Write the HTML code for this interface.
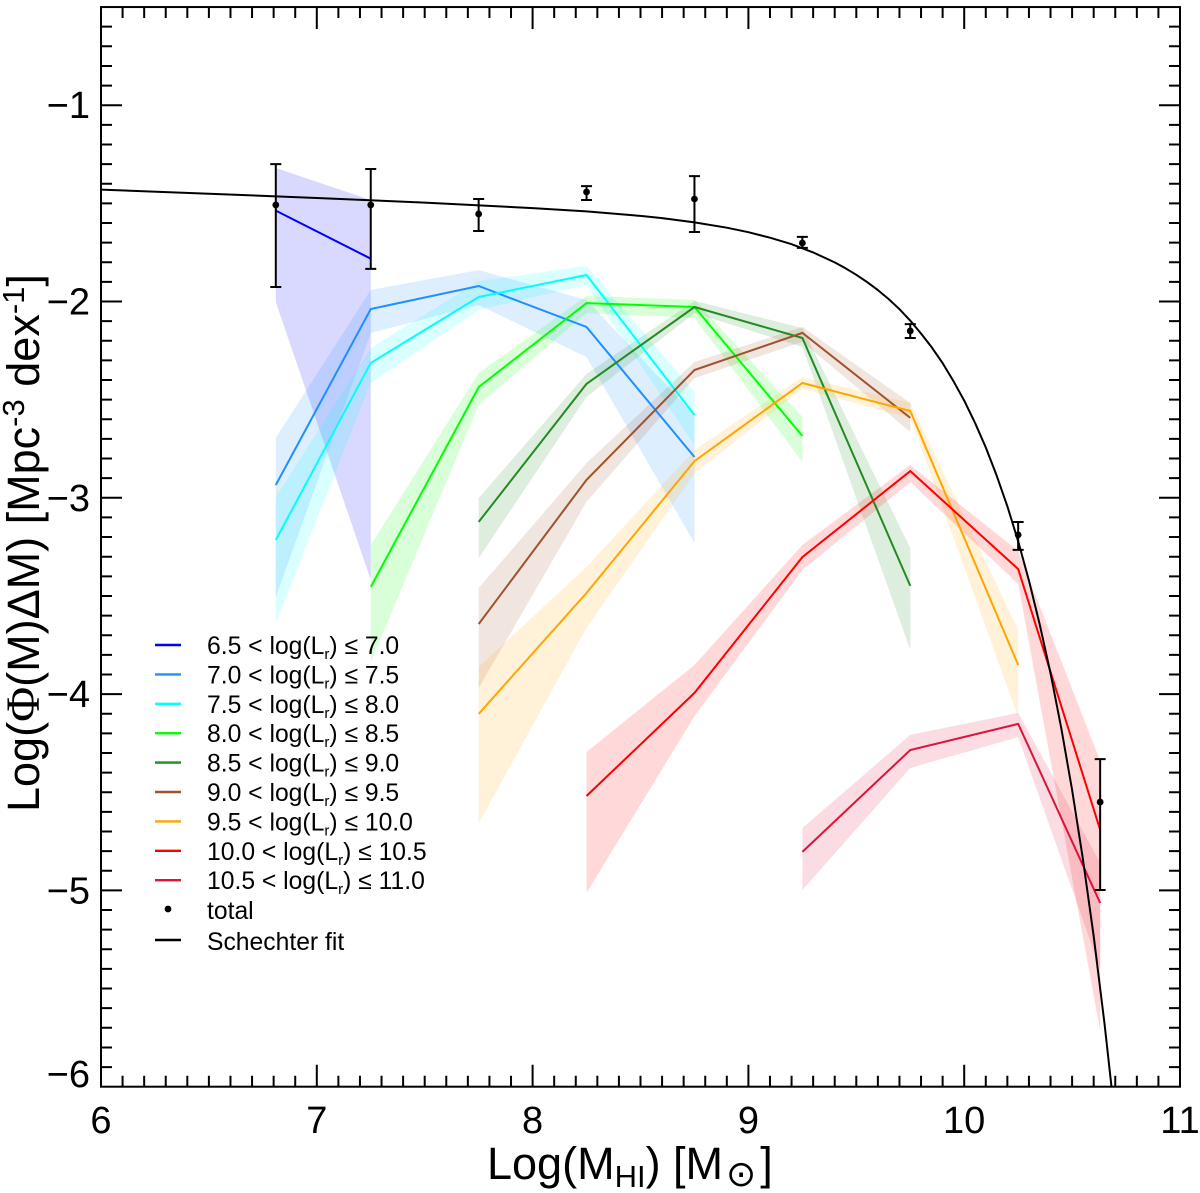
<!DOCTYPE html>
<html lang="en">
<head>
<meta charset="utf-8">
<title>HI mass function by luminosity bin</title>
<style>
html,body{margin:0;padding:0;background:#fff;}
svg{display:block;font-family:"Liberation Sans",sans-serif;}
</style>
</head>
<body>
<svg id="chart" xmlns="http://www.w3.org/2000/svg" width="1200" height="1193" viewBox="0 0 1200 1193">
  <defs><clipPath id="plot-clip"><rect x="101" y="7" width="1079" height="1079.7"/></clipPath></defs>
  <g id="bands-lines" clip-path="url(#plot-clip)"></g>
  <g id="fit" clip-path="url(#plot-clip)"></g>
  <g id="totals"></g>
  <g id="axes"></g>
  <g id="legend"></g>
  <text x="487" y="1179" font-size="45" fill="#000">Log(M<tspan font-size="31" dy="8">HI</tspan><tspan dy="-8">) [M</tspan><tspan font-size="36" dy="7" dx="3" font-family="'DejaVu Sans',sans-serif">⊙</tspan><tspan dy="-7" dx="4">]</tspan></text>
  <text transform="translate(39,812) rotate(-90)" font-size="45" fill="#000">Log(<tspan font-family="'Liberation Serif',serif" font-size="48">Φ</tspan>(M)ΔM) [Mpc<tspan font-size="31" dy="-15">-3</tspan><tspan dy="15"> dex</tspan><tspan font-size="31" dy="-15">-1</tspan><tspan dy="15">]</tspan></text>
</svg>
<script>
const NS = 'http://www.w3.org/2000/svg';

// ---- data ----
const xTickValues = [6, 7, 8, 9, 10, 11];
const yTickValues = [-6, -5, -4, -3, -2, -1];
const xTickLabels = ['6', '7', '8', '9', '10', '11'];
const yTickLabels = ['\u22126', '\u22125', '\u22124', '\u22123', '\u22122', '\u22121'];

const binLabelsLow = ['6.5', '7.0', '7.5', '8.0', '8.5', '9.0', '9.5', '10.0', '10.5'];
const binLabelsHigh = ['7.0', '7.5', '8.0', '8.5', '9.0', '9.5', '10.0', '10.5', '11.0'];
const binColors = ['#0000ff', '#1e90ff', '#00ffff', '#00ff00', '#228b22', '#a0522d', '#ffa500', '#ff0000', '#dc143c'];

const mass0 = [6.81, 7.25];
const line0 = [-1.537, -1.782];
const upper0 = [-1.320, -1.483];
const lower0 = [-2.003, -3.419];

const mass1 = [6.81, 7.25, 7.75, 8.25, 8.75];
const line1 = [-2.935, -2.038, -1.921, -2.130, -2.792];
const upper1 = [-2.695, -1.941, -1.840, -1.992, -2.578];
const lower1 = [-3.505, -2.160, -2.018, -2.283, -3.230];

const mass2 = [6.81, 7.25, 7.75, 8.25, 8.75];
const line2 = [-3.215, -2.313, -1.977, -1.865, -2.578];
const upper2 = [-2.996, -2.237, -1.896, -1.819, -2.461];
const lower2 = [-3.638, -2.415, -2.043, -1.916, -2.731];

const mass3 = [7.25, 7.75, 8.25, 8.75, 9.25];
const line3 = [-3.454, -2.436, -2.008, -2.028, -2.685];
const upper3 = [-3.240, -2.364, -1.972, -1.992, -2.588];
const lower3 = [-3.836, -2.527, -2.059, -2.084, -2.818];

const mass4 = [7.75, 8.25, 8.75, 9.25, 9.75];
const line4 = [-3.123, -2.420, -2.028, -2.186, -3.449];
const upper4 = [-3.001, -2.369, -1.997, -2.135, -3.256];
const lower4 = [-3.307, -2.486, -2.059, -2.232, -3.775];

const mass5 = [7.75, 8.25, 8.75, 9.25, 9.75];
const line5 = [-3.643, -2.909, -2.349, -2.160, -2.593];
const upper5 = [-3.459, -2.823, -2.308, -2.130, -2.517];
const lower5 = [-3.969, -3.021, -2.390, -2.206, -2.665];

const mass6 = [7.75, 8.25, 8.75, 9.25, 9.75, 10.25];
const line6 = [-4.101, -3.485, -2.813, -2.415, -2.558, -3.852];
const upper6 = [-3.862, -3.352, -2.757, -2.385, -2.517, -3.673];
const lower6 = [-4.657, -3.663, -2.874, -2.446, -2.593, -4.117];

const mass7 = [8.25, 8.75, 9.25, 9.75, 10.25, 10.63];
const line7 = [-4.519, -3.994, -3.302, -2.864, -3.363, -4.692];
const upper7 = [-4.295, -3.852, -3.240, -2.833, -3.271, -4.341];
const lower7 = [-5.013, -4.112, -3.368, -2.920, -3.439, -5.716];

const mass8 = [9.25, 9.75, 10.25, 10.63];
const line8 = [-4.804, -4.285, -4.152, -5.064];
const upper8 = [-4.682, -4.208, -4.096, -4.860];
const lower8 = [-4.998, -4.376, -4.219, -5.400];

const totalMass = [6.81, 7.25, 7.75, 8.25, 8.75, 9.25, 9.75, 10.25, 10.63];
const totalValue = [-1.508, -1.508, -1.554, -1.442, -1.478, -1.702, -2.150, -3.189, -4.550];
const totalUpper = [-1.300, -1.325, -1.478, -1.412, -1.361, -1.671, -2.115, -3.123, -4.331];
const totalLower = [-1.926, -1.834, -1.641, -1.483, -1.646, -1.727, -2.186, -3.265, -4.998];

const fitMass = [6, 6.5, 7, 7.5, 8, 8.25, 8.5, 8.6, 8.75, 8.9, 9, 9.1, 9.2, 9.3, 9.4, 9.45, 9.5, 9.55, 9.6, 9.65, 9.7, 9.75, 9.8, 9.85, 9.9, 9.95, 10, 10.05, 10.1, 10.15, 10.2, 10.25, 10.3, 10.35, 10.4, 10.45, 10.5, 10.55, 10.6, 10.65, 10.7];
const fitValue = [-1.430, -1.451, -1.473, -1.496, -1.524, -1.541, -1.564, -1.575, -1.597, -1.624, -1.647, -1.675, -1.708, -1.750, -1.801, -1.831, -1.864, -1.901, -1.942, -1.988, -2.039, -2.098, -2.163, -2.234, -2.314, -2.405, -2.505, -2.618, -2.744, -2.886, -3.044, -3.222, -3.421, -3.645, -3.893, -4.174, -4.488, -4.840, -5.234, -5.678, -6.175];

const massSets = [mass0, mass1, mass2, mass3, mass4, mass5, mass6, mass7, mass8];
const lineSets = [line0, line1, line2, line3, line4, line5, line6, line7, line8];
const upperSets = [upper0, upper1, upper2, upper3, upper4, upper5, upper6, upper7, upper8];
const lowerSets = [lower0, lower1, lower2, lower3, lower4, lower5, lower6, lower7, lower8];

// ---- axis functions ----
function xPos(v) { return 101 + (v - 6) * 215.8; }
function yPos(v) { return 105.2 + (-1 - v) * 196.3; }

function make(tag, parent) {
  const el = document.createElementNS(NS, tag);
  parent.appendChild(el);
  return el;
}
function pointsOf(xs, ys) {
  return xs.map(function (x, i) { return xPos(x).toFixed(1) + ',' + yPos(ys[i]).toFixed(1); }).join(' ');
}

// ---- series bands and lines ----
const seriesLayer = document.getElementById('bands-lines');
massSets.forEach(function (xs, s) {
  const band = make('polygon', seriesLayer);
  
  
  const revX = xs.slice().reverse();
  const revLow = lowerSets[s].slice().reverse();
  band.setAttribute('points', pointsOf(xs, upperSets[s]) + ' ' + pointsOf(revX, revLow));
  band.setAttribute('fill', binColors[s]);
  band.setAttribute('fill-opacity', '0.15');
  band.setAttribute('stroke', 'none');
});
massSets.forEach(function (xs, s) {
  const line = make('polyline', seriesLayer);
  
  
  line.setAttribute('points', pointsOf(xs, lineSets[s]));
  line.setAttribute('fill', 'none');
  line.setAttribute('stroke', binColors[s]);
  line.setAttribute('stroke-width', '2');
});

// ---- Schechter fit ----
const fitLayer = document.getElementById('fit');
const fitLine = make('polyline', fitLayer);


fitLine.setAttribute('points', pointsOf(fitMass, fitValue));
fitLine.setAttribute('fill', 'none');
fitLine.setAttribute('stroke', '#000');
fitLine.setAttribute('stroke-width', '2');
fitLine.setAttribute('stroke-linejoin', 'round');

// ---- total points with error bars ----
const totalsLayer = document.getElementById('totals');
totalMass.forEach(function (m, i) {
  const px = xPos(m);
  const top = yPos(totalUpper[i]);
  const bot = yPos(totalLower[i]);
  const bar = make('path', totalsLayer);
  
  
  bar.setAttribute('d', 'M' + px + ' ' + top + 'V' + bot + 'M' + (px - 5.5) + ' ' + top + 'h11M' + (px - 5.5) + ' ' + bot + 'h11');
  bar.setAttribute('stroke', '#000');
  bar.setAttribute('stroke-width', '2');
  bar.setAttribute('fill', 'none');
  const dot = make('circle', totalsLayer);
  
  
  dot.setAttribute('cx', px);
  dot.setAttribute('cy', yPos(totalValue[i]));
  dot.setAttribute('r', '3.4');
  dot.setAttribute('fill', '#000');
});

// ---- axes ----
const axesLayer = document.getElementById('axes');
const frame = make('rect', axesLayer);


frame.setAttribute('x', xPos(6));
frame.setAttribute('y', yPos(-0.5));
frame.setAttribute('width', xPos(11) - xPos(6));
frame.setAttribute('height', yPos(-6) - yPos(-0.5));
frame.setAttribute('fill', 'none');
frame.setAttribute('stroke', '#000');
frame.setAttribute('stroke-width', '2');

let tickPath = '';
for (let i = 1; i < 50; i++) {
  const px = xPos(6 + i / 10);
  const len = i % 10 === 0 ? 22 : 11;
  tickPath += 'M' + px + ' ' + yPos(-6) + 'v' + (-len) + 'M' + px + ' ' + yPos(-0.5) + 'v' + len;
}
for (let i = 1; i < 55; i++) {
  const py = yPos(-6 + i / 10);
  const len = i % 10 === 0 ? 21 : 11;
  tickPath += 'M' + xPos(6) + ' ' + py + 'h' + len + 'M' + xPos(11) + ' ' + py + 'h' + (-len);
}
const ticks = make('path', axesLayer);


ticks.setAttribute('d', tickPath);
ticks.setAttribute('stroke', '#000');
ticks.setAttribute('stroke-width', '2');
ticks.setAttribute('fill', 'none');

xTickValues.forEach(function (v, i) {
  const t = make('text', axesLayer);
  
  
  t.setAttribute('x', xPos(v));
  t.setAttribute('y', 1133);
  t.setAttribute('text-anchor', 'middle');
  t.setAttribute('font-size', '38');
  t.textContent = xTickLabels[i];
});
yTickValues.forEach(function (v, i) {
  const t = make('text', axesLayer);
  
  
  t.setAttribute('x', 90);
  t.setAttribute('y', Math.min(yPos(v) + 13, 1087));
  t.setAttribute('text-anchor', 'end');
  t.setAttribute('font-size', '38');
  t.textContent = yTickLabels[i];
});

// ---- legend ----
const legendLayer = document.getElementById('legend');
const legendTop = 645;
const legendStep = 29.4;
binColors.forEach(function (c, i) {
  const ly = legendTop + i * legendStep;
  const swatch = make('line', legendLayer);
  
  
  swatch.setAttribute('x1', 155);
  swatch.setAttribute('x2', 181);
  swatch.setAttribute('y1', ly);
  swatch.setAttribute('y2', ly);
  swatch.setAttribute('stroke', c);
  swatch.setAttribute('stroke-width', '2.4');
  const label = make('text', legendLayer);
  
  
  label.setAttribute('x', 207);
  label.setAttribute('y', ly + 9);
  label.setAttribute('font-size', '24.7');
  const a = make('tspan', label);
  a.textContent = binLabelsLow[i] + ' < log(L';
  const b = make('tspan', label);
  b.setAttribute('font-size', '15');
  b.setAttribute('dy', '5');
  b.textContent = 'r';
  const d = make('tspan', label);
  d.setAttribute('dy', '-5');
  d.textContent = ') \u2264 ' + binLabelsHigh[i];
});
const legendDot = make('circle', legendLayer);


legendDot.setAttribute('cx', 168);
legendDot.setAttribute('cy', 909);
legendDot.setAttribute('r', '3.4');
legendDot.setAttribute('fill', '#000');
const legendTotal = make('text', legendLayer);


legendTotal.setAttribute('x', 207);
legendTotal.setAttribute('y', 919);
legendTotal.setAttribute('font-size', '24.7');
legendTotal.textContent = 'total';
const legendFit = make('line', legendLayer);


legendFit.setAttribute('x1', 155);
legendFit.setAttribute('x2', 181);
legendFit.setAttribute('y1', 940);
legendFit.setAttribute('y2', 940);
legendFit.setAttribute('stroke', '#000');
legendFit.setAttribute('stroke-width', '2.4');
const legendFitLabel = make('text', legendLayer);


legendFitLabel.setAttribute('x', 207);
legendFitLabel.setAttribute('y', 950);
legendFitLabel.setAttribute('font-size', '24.7');
legendFitLabel.textContent = 'Schechter fit';
</script>
</body>
</html>
